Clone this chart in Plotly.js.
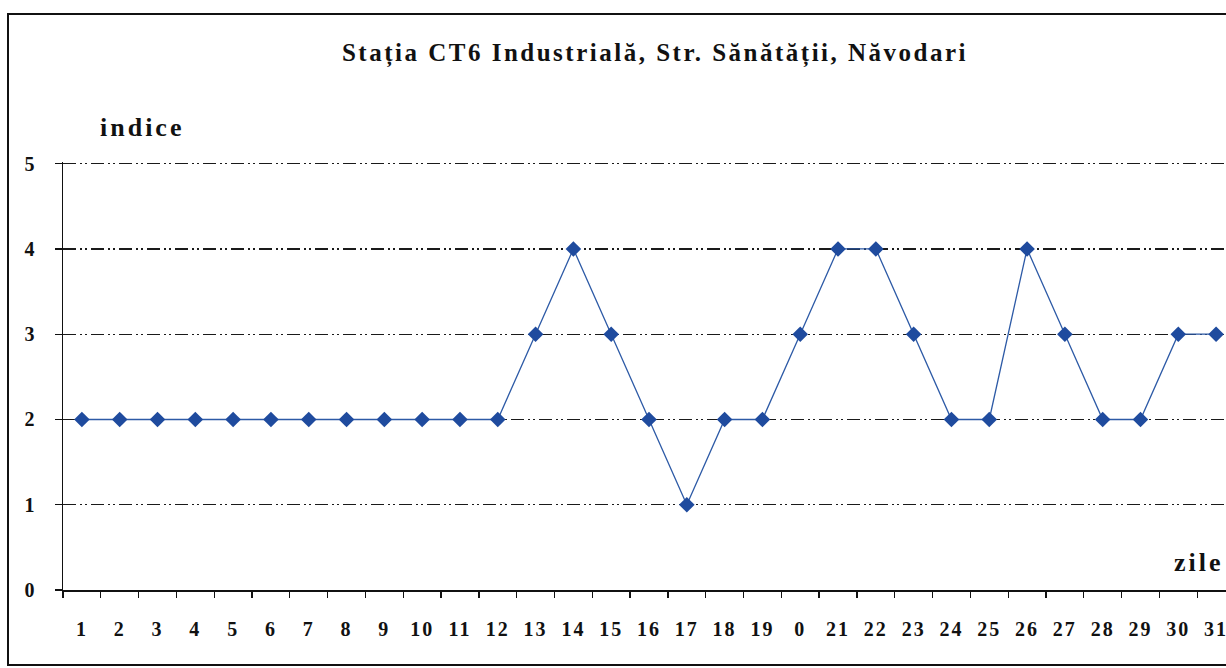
<!DOCTYPE html>
<html>
<head>
<meta charset="utf-8">
<script src="https://cdn.plot.ly/plotly-3.0.1.min.js"></script>
<style>
  html, body { margin: 0; padding: 0; background: #fff; overflow: hidden; }
  #chart { width: 1250px; height: 668px; }
  #chart .gtitle { letter-spacing: 2.5px; }
  #chart .annotation-text { letter-spacing: 3px; }
  #chart .xtick text, #chart .ytick text { letter-spacing: 2px; }
</style>
</head>
<body>
<div id="chart"></div>
<script>
// Day labels as printed on the x axis (day 20 is printed as "0")
const dayLabels = ["1","2","3","4","5","6","7","8","9","10","11","12","13","14","15","16","17","18","19","0","21","22","23","24","25","26","27","28","29","30","31"];
// Daily index values
const indexValues = [2,2,2,2,2,2,2,2,2,2,2,2,3,4,3,2,1,2,2,3,4,4,3,2,2,4,3,2,2,3,3];
const yTickVals = [0,1,2,3,4,5];

const serif = "Liberation Serif, Times New Roman, serif";

const trace = {
  x: dayLabels,
  y: indexValues,
  type: "scatter",
  mode: "lines+markers",
  line: { color: "#2d5aa6", width: 1.3 },
  marker: { symbol: "diamond", size: 12, color: "#1f4b9e" },
  cliponaxis: false,
  hoverinfo: "x+y"
};

const layout = {
  width: 1250,
  height: 668,
  margin: { l: 63, r: 15, t: 162, b: 78 },
  paper_bgcolor: "#ffffff",
  plot_bgcolor: "#ffffff",
  showlegend: false,
  title: {
    text: "<b>Stația CT6 Industrială, Str. Sănătății, Năvodari</b>",
    font: { family: serif, size: 25, color: "#111" },
    x: 655 / 1250, xref: "container", xanchor: "center",
    y: 1 - 52 / 668, yref: "container", yanchor: "middle"
  },
  xaxis: {
    type: "category",
    range: [-0.5, 30.5],
    tickson: "boundaries",
    dtick: 1,
    ticks: "outside",
    ticklen: 6,
    tickwidth: 1.3,
    tickcolor: "#111",
    showgrid: false,
    showline: true,
    linecolor: "#111",
    linewidth: 1.5,
    zeroline: false,
    ticklabelstandoff: 20,
    tickfont: { family: serif, size: 20, color: "#111", weight: "bold" },
    fixedrange: true
  },
  yaxis: {
    range: [0, 5.02],
    tickmode: "array",
    tickvals: yTickVals,
    ticktext: yTickVals.map(String),
    ticks: "outside",
    ticklen: 7,
    tickwidth: 1.3,
    tickcolor: "#111",
    showline: true,
    linecolor: "#111",
    linewidth: 1.5,
    zeroline: false,
    showgrid: true,
    gridcolor: "#1a1a1a",
    gridwidth: 1.4,
    griddash: "13px,4px,2px,3px,2px,4px",
    ticklabelstandoff: 14,
    tickfont: { family: serif, size: 20, color: "#111", weight: "bold" },
    fixedrange: true
  },
  annotations: [
    {
      text: "<b>indice</b>", xref: "paper", yref: "paper",
      x: (107 - 63) / 1172, y: (590 - 128) / 428,
      xanchor: "left", yanchor: "middle", showarrow: false,
      font: { family: serif, size: 26, color: "#111" }
    },
    {
      text: "<b>zile</b>", xref: "paper", yref: "paper",
      x: (1220 - 63) / 1172, y: (590 - 562) / 428,
      xanchor: "right", yanchor: "middle", showarrow: false,
      font: { family: serif, size: 26, color: "#111" }
    }
  ],
  shapes: [
    {
      type: "rect", xref: "paper", yref: "paper",
      x0: (8 - 63) / 1172, x1: (1247 - 63) / 1172,
      y0: (590 - 665) / 428, y1: (590 - 14) / 428,
      line: { color: "#111", width: 2 }, layer: "below"
    }
  ]
};

Plotly.newPlot("chart", [trace], layout, { displayModeBar: false, staticPlot: true });
</script>
</body>
</html>
